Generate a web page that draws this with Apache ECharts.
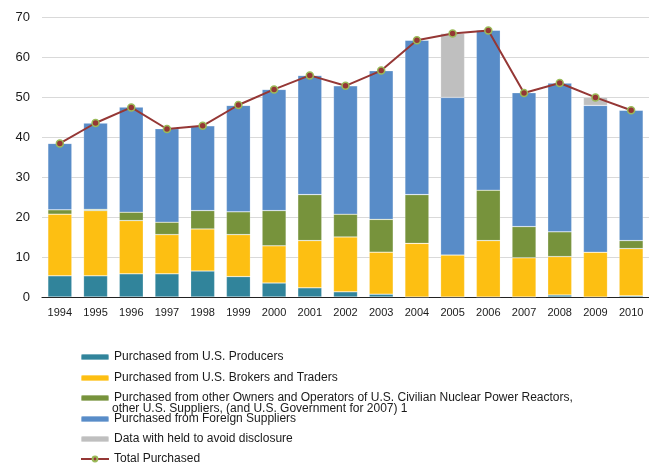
<!DOCTYPE html>
<html>
<head>
<meta charset="utf-8">
<script src="https://cdn.jsdelivr.net/npm/echarts@6/dist/echarts.min.js"></script>
<style>
  html, body { margin: 0; padding: 0; background: #fff; }
  #chart { width: 649px; height: 464px; }
</style>
</head>
<body>
<div id="chart"></div>
<script>
var years = ["1994", "1995", "1996", "1997", "1998", "1999", "2000", "2001", "2002",
  "2003", "2004", "2005", "2006", "2007", "2008", "2009", "2010"];
var producers = [5.3, 5.3, 5.8, 5.8, 6.5, 5.1, 3.5, 2.3, 1.3, 0.7, 0, 0, 0, 0, 0.5, 0, 0.3];
var brokers = [15.4, 16.3, 13.3, 9.8, 10.5, 10.5, 9.3, 11.8, 13.7, 10.5, 13.4, 10.5, 14.1, 9.8, 9.6, 11.2, 11.8];
var others = [1.1, 0.3, 2.1, 3.1, 4.6, 5.7, 8.8, 11.5, 5.7, 8.2, 12.2, 0, 12.6, 7.8, 6.2, 0, 2.0];
var foreign = [16.6, 21.6, 26.3, 23.4, 21.2, 26.6, 30.3, 29.8, 32.1, 37.2, 38.6, 39.4, 40.0, 33.5, 37.2, 36.7, 32.6];
var withheld = [0, 0, 0, 0, 0, 0, 0, 0, 0, 0, 0, 16.0, 0, 0, 0, 2.0, 0];
var total = [38.4, 43.5, 47.4, 42.0, 42.8, 48.0, 51.9, 55.4, 52.8, 56.6, 64.2, 65.9, 66.6, 51.0, 53.5, 49.9, 46.7];
var yTicks = [0, 10, 20, 30, 40, 50, 60, 70];

var names = [
  "Purchased from U.S. Producers",
  "Purchased from U.S. Brokers and Traders",
  "Purchased from other Owners and Operators of U.S. Civilian Nuclear Power Reactors,",
  "Purchased from Foreign Suppliers",
  "Data with held to avoid disclosure",
  "Total Purchased"
];
var colors = ["#31849B", "#FDBF12", "#77933C", "#588CC8", "#BFBFBF", "#953735"];

var font = "'Liberation Sans', Arial, sans-serif";
var chart = echarts.init(document.getElementById("chart"));

function barSeries(i, data) {
  return {
    name: names[i],
    type: "bar",
    stack: "a",
    barWidth: 24,
    data: data,
    itemStyle: { color: colors[i], borderColor: "rgba(255,255,255,0.35)", borderWidth: 0.6 }
  };
}

// legend rows (one legend per row, so the long wrapped item can sit like the original)
var legendTops = [351, 372, 392, 413, 433, 453];
var legends = names.map(function (n, i) {
  return {
    left: 80,
    top: legendTops[i],
    padding: 0,
    data: [n],
    itemWidth: 28,
    itemHeight: 6,
    itemGap: 4,
    selectedMode: false,
    textStyle: { fontFamily: font, fontSize: 12, color: "#1a1a1a" }
  };
});

var option = {
  animation: false,
  color: colors,
  textStyle: { fontFamily: font },
  grid: { left: 42, right: -3, top: 17, bottom: 167 },
  legend: legends,
  graphic: [{
    type: "text",
    left: 112,
    top: 403,
    style: {
      text: "other U.S. Suppliers, (and U.S. Government for 2007) 1",
      font: "12px " + font,
      fill: "#1a1a1a"
    }
  }],
  xAxis: {
    type: "category",
    data: years,
    axisLine: { lineStyle: { color: "#222", width: 1.2 } },
    axisTick: { length: 5, lineStyle: { color: "#222" } },
    axisLabel: { fontSize: 11, color: "#1a1a1a", margin: 10 }
  },
  yAxis: {
    type: "value",
    min: yTicks[0],
    max: yTicks[yTicks.length - 1],
    interval: 10,
    axisLine: { show: false },
    axisTick: { show: false },
    axisLabel: { fontSize: 13, color: "#1a1a1a", margin: 12 },
    splitLine: { lineStyle: { color: "#d9d9d9", width: 1.2 } }
  },
  series: [
    barSeries(0, producers),
    barSeries(1, brokers),
    barSeries(2, others),
    barSeries(3, foreign),
    barSeries(4, withheld),
    {
      name: names[5],
      type: "line",
      data: total,
      symbol: "circle",
      symbolSize: 7,
      z: 5,
      lineStyle: { color: "#953735", width: 2 },
      itemStyle: { color: "#953735", borderColor: "#9BBB59", borderWidth: 1.5 }
    }
  ]
};
chart.setOption(option);
</script>
</body>
</html>
